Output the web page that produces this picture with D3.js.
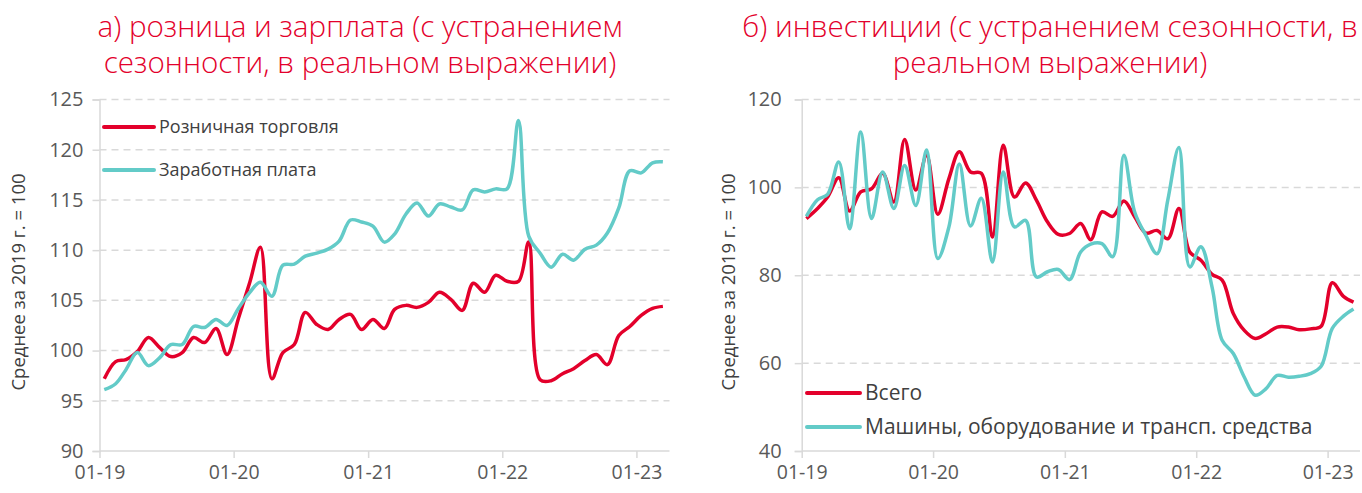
<!DOCTYPE html>
<html><head><meta charset="utf-8">
<script src="https://cdn.jsdelivr.net/npm/d3@7"></script>
<style>
body{margin:0;background:#fff;}
svg{display:block;}
</style></head>
<body>
<svg id="c" width="1362" height="493"></svg>
<script>
// ---- data ----
const startYear = 2019, startMonth = 0, nMonths = 51; // Jan 2019 .. Mar 2023
const retail = [97.2,98.9,99.1,99.9,101.3,100.3,99.4,99.8,101.3,100.8,102.2,99.6,
  103.2,106.8,110.3,97.2,99.8,100.6,103.8,102.6,102.1,103.1,103.6,102.1,
  103.1,102.2,104.1,104.5,104.3,104.8,105.8,105.1,104.0,106.7,105.8,107.5,
  106.9,106.9,110.8,97.1,97.0,97.7,98.2,99.0,99.6,98.6,101.5,102.4,
  103.5,104.2,104.4];
const wages = [96.1,96.7,98.1,99.8,98.5,99.3,100.6,100.6,102.4,102.3,103.1,102.5,
  104.2,105.8,106.8,105.4,108.5,108.6,109.4,109.7,110.1,110.9,113.0,112.8,
  112.4,110.8,111.6,113.6,114.7,113.4,114.6,114.3,114.0,116.0,115.8,116.1,
  116.1,122.9,111.4,109.7,108.3,109.6,109.0,110.1,110.5,111.7,114.2,117.9,
  117.7,118.7,118.8];
const invTotal = [92.9,95.2,97.8,102.2,94.6,99.0,99.7,103.2,96.7,110.9,99.4,107.3,
  93.9,102.0,108.1,103.5,103.2,88.7,109.6,97.8,101.0,97.1,92.1,89.3,
  89.5,91.8,88.1,94.4,93.4,96.9,93.3,89.6,90.2,88.3,95.2,85.3,
  83.4,80.2,78.9,71.3,67.5,65.6,66.7,68.2,68.2,67.6,67.8,68.4,
  78.3,75.2,73.9];
const invMachinery = [93.4,97.2,98.4,105.8,90.6,112.6,92.9,103.5,95.2,105.0,95.9,108.5,
  83.8,91.0,105.3,91.2,97.5,83.0,103.5,91.0,92.5,79.6,80.8,81.3,
  79.0,85.3,87.1,87.2,84.2,107.3,94.4,89.1,84.9,97.1,109.1,81.9,
  86.5,77.3,65.2,62.2,56.9,52.7,54.2,57.2,56.8,57.0,57.6,59.3,
  67.9,70.7,72.3];
const xTickLabels = ["01-19","01-20","01-21","01-22","01-23"];
const leftTicks = [90,95,100,105,110,115,120,125];
const rightTicks = [40,60,80,100,120];
const titleLeft = ["а) розница и зарплата (с устранением","сезонности, в реальном выражении)"];
const titleRight = ["б) инвестиции (с устранением сезонности, в","реальном выражении)"];
const yTitle = "Среднее за 2019 г. = 100";
const legendLeft = ["Розничная торговля","Заработная плата"];
const legendRight = ["Всего","Машины, оборудование и трансп. средства"];

// ---- styles ----
const RED = "#e3002b", CYAN = "#63cbc8", GRID = "#d9d9d9", TXT = "#595959";
const FONT = "'Open Sans', sans-serif";
const dates = d3.range(nMonths).map(i => new Date(startYear, startMonth + i, 14));
const tickDates = xTickLabels.map((l, i) => new Date(startYear + i, 0, 1));
const svg = d3.select("#c");

const probe = svg.append("text").style("font", `300 28px ${FONT}`).text(titleRight[0]);
const titleSize = 28 * 616 / probe.node().getComputedTextLength();
probe.remove();

function panel(opt) {
  const x = d3.scaleTime().domain([new Date(2019,0,1), new Date(2023,3,1)]).range([opt.x0, opt.x1]);
  const y = d3.scaleLinear().domain(opt.ydom).range([451, 99.5]);
  const g = svg.append("g");
  g.selectAll(".grid").data(opt.yticks.slice(1)).join("line")
    .attr("x1", opt.x0).attr("x2", opt.x1)
    .attr("y1", d => y(d)).attr("y2", d => y(d))
    .attr("stroke", GRID).attr("stroke-width", 1.5).attr("stroke-dasharray", "7,5");
  const ya = d3.axisLeft(y).tickValues(opt.yticks).tickSize(7).tickPadding(opt.yPad).tickFormat(d3.format("d"));
  const yg = g.append("g").attr("transform", `translate(${opt.x0},0)`).call(ya);
  yg.select(".domain").attr("stroke", GRID).attr("stroke-width", 1.5);
  yg.selectAll(".tick line").attr("stroke", GRID).attr("stroke-width", 1.5);
  yg.selectAll("text").attr("fill", TXT).style("font", `20px ${FONT}`);
  const xa = d3.axisBottom(x).tickValues(tickDates).tickSize(7).tickPadding(7)
    .tickFormat((d, i) => xTickLabels[i]);
  const xg = g.append("g").attr("transform", `translate(0,451)`).call(xa);
  xg.select(".domain").attr("stroke", GRID).attr("stroke-width", 1.5).attr("d", `M${opt.x0},0H${opt.x1}`);
  xg.selectAll(".tick line").attr("stroke", GRID).attr("stroke-width", 1.5);
  xg.selectAll("text").attr("fill", TXT).style("font", `19.5px ${FONT}`);
  const line = d3.line().x((d, i) => x(dates[i])).y(d => y(d)).curve(d3.curveCatmullRom.alpha(0.5));
  opt.series.forEach(s => {
    g.append("path").attr("d", line(s.data)).attr("fill", "none")
      .attr("stroke", s.color).attr("stroke-width", 3.5).attr("stroke-linejoin", "round");
  });
  opt.series.forEach((s, i) => {
    const ly = opt.legY[i];
    g.append("line").attr("x1", opt.legX).attr("x2", opt.legX + opt.legW).attr("y1", ly).attr("y2", ly)
      .attr("stroke", s.color).attr("stroke-width", 4).attr("stroke-linecap", "round");
    g.append("text").attr("x", opt.legX + opt.legW + 5).attr("y", ly).attr("dy", "0.35em")
      .attr("fill", "#404040").style("font", `${opt.legFont}px ${FONT}`).text(s.name);
  });
  g.append("text").attr("transform", `translate(${opt.ytX},${opt.ytY}) rotate(-90)`)
    .attr("text-anchor", "middle").attr("dy", "0.35em")
    .attr("fill", "#404040").style("font", `18.5px ${FONT}`).text(yTitle);
  opt.title.forEach((t, i) => {
    g.append("text").attr("x", opt.tX).attr("y", 37 + i * 36).attr("text-anchor", "middle")
      .attr("fill", RED).style("font", `300 ${titleSize}px ${FONT}`).text(t);
  });
}

panel({x0: 99.5, x1: 669.5, ydom: [90,125], yticks: leftTicks, yPad: 9,
  series: [{data: retail, color: RED, name: legendLeft[0]}, {data: wages, color: CYAN, name: legendLeft[1]}],
  legX: 104, legW: 50, legFont: 18, legY: [127, 170], ytX: 19, ytY: 282, title: titleLeft, tX: 360});
panel({x0: 801.7, x1: 1360, ydom: [40,120], yticks: rightTicks, yPad: 13,
  series: [{data: invTotal, color: RED, name: legendRight[0]}, {data: invMachinery, color: CYAN, name: legendRight[1]}],
  legX: 807, legW: 53, legFont: 21, legY: [393, 427], ytX: 729, ytY: 282, title: titleRight, tX: 1050});
</script>
</body></html>
